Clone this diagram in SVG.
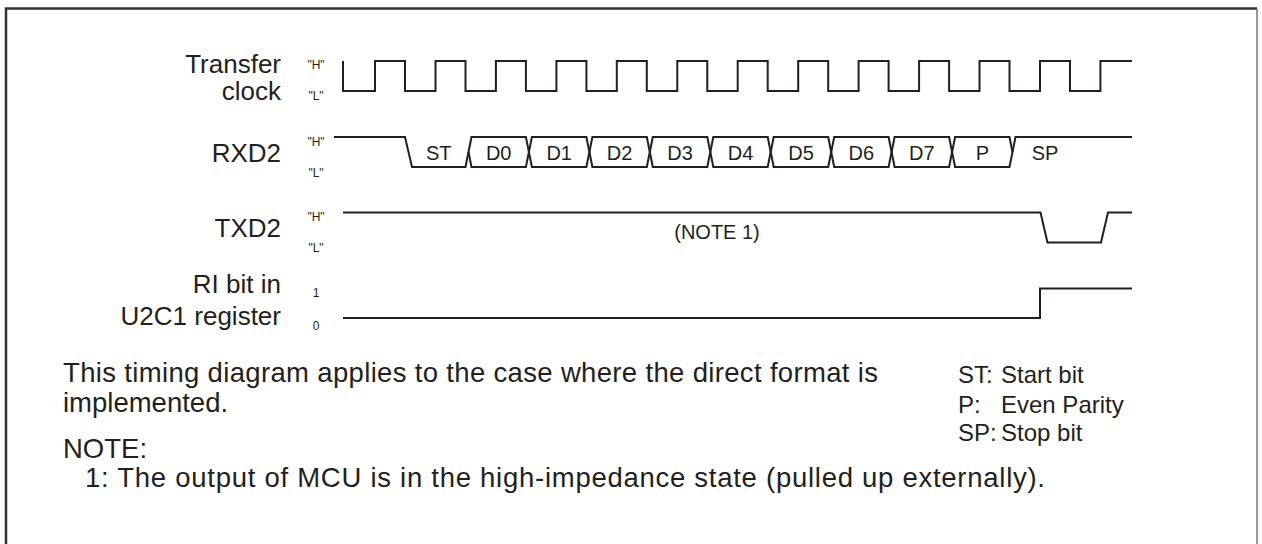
<svg xmlns="http://www.w3.org/2000/svg" width="1262" height="544" viewBox="0 0 1262 544">
<style>
.sig{fill:none;stroke:#231f20;stroke-width:2;stroke-linejoin:miter}
.lbl{font-family:"Liberation Sans",Arial,sans-serif;font-size:26px;fill:#231f20;text-anchor:end}
.hl{font-family:"Liberation Sans",Arial,sans-serif;font-size:12px;fill:#231f20;text-anchor:middle}
.dat{font-family:"Liberation Sans",Arial,sans-serif;font-size:20px;fill:#231f20;text-anchor:middle}
.txt{font-family:"Liberation Sans",Arial,sans-serif;font-size:27.5px;fill:#231f20}
.leg{font-family:"Liberation Sans",Arial,sans-serif;font-size:24px;fill:#231f20}
</style>
<rect width="1262" height="544" fill="#fff"/>
<g id="frame">
<path d="M6,544 V8.5 H1257" fill="none" stroke="#333" stroke-width="2.5"/>
<path d="M1257,8.5 V544" fill="none" stroke="#777" stroke-width="1.5"/>
</g>
<g id="clock">
<text class="lbl" x="281" y="72.5">Transfer</text>
<text class="lbl" x="281" y="100">clock</text>
<text class="hl" x="316" y="68.5">"H"</text>
<text class="hl" x="316" y="99.5">"L"</text>
</g>
<g id="rxd2">
<text class="lbl" x="281" y="161.5">RXD2</text>
<text class="hl" x="316" y="145.5">"H"</text>
<text class="hl" x="316" y="176.5">"L"</text>
<text class="dat" x="438.8" y="160">ST</text>
<text class="dat" x="498.7" y="160">D0</text>
<text class="dat" x="559.2" y="160">D1</text>
<text class="dat" x="619.6" y="160">D2</text>
<text class="dat" x="680.1" y="160">D3</text>
<text class="dat" x="740.5" y="160">D4</text>
<text class="dat" x="801" y="160">D5</text>
<text class="dat" x="861.4" y="160">D6</text>
<text class="dat" x="921.9" y="160">D7</text>
<text class="dat" x="982.3" y="160">P</text>
<text class="dat" x="1045" y="160">SP</text>
</g>
<g id="txd2">
<text class="lbl" x="281" y="236.5">TXD2</text>
<text class="hl" x="316" y="220.5">"H"</text>
<text class="hl" x="316" y="251.5">"L"</text>
<text class="dat" x="717" y="239">(NOTE 1)</text>
</g>
<g id="ri">
<text class="lbl" x="281" y="293">RI bit in</text>
<text class="lbl" x="281" y="325">U2C1 register</text>
<text class="hl" x="316" y="296.5">1</text>
<text class="hl" x="316" y="329.5">0</text>
</g>
<g id="connectors">
<path class="sig" d="M343,61 V91 H375 V61 H405 V91 H435.5 V61 H465.5 V91 H495.9 V61 H525.9 V91 H556.4 V61 H586.4 V91 H616.8 V61 H646.8 V91 H677.3 V61 H707.3 V91 H737.7 V61 H767.7 V91 H798.2 V61 H828.2 V91 H858.6 V61 H888.6 V91 H919.1 V61 H949.1 V91 H979.5 V61 H1009.5 V91 H1040 V61 H1070 V91 H1100.4 V61 H1132"/>
<path class="sig" d="M334,137 H405 L412,167 H465.5 L468.5,152"/>
<path class="sig" d="M468.5,152 L471.5,137 H525.9 L528.9,152 L525.9,167 H471.5 Z"/>
<path class="sig" d="M528.9,152 L531.9,137 H586.4 L589.4,152 L586.4,167 H531.9 Z"/>
<path class="sig" d="M589.4,152 L592.4,137 H646.8 L649.8,152 L646.8,167 H592.4 Z"/>
<path class="sig" d="M649.8,152 L652.8,137 H707.3 L710.3,152 L707.3,167 H652.8 Z"/>
<path class="sig" d="M710.3,152 L713.3,137 H767.7 L770.7,152 L767.7,167 H713.3 Z"/>
<path class="sig" d="M770.7,152 L773.7,137 H828.2 L831.2,152 L828.2,167 H773.7 Z"/>
<path class="sig" d="M831.2,152 L834.2,137 H888.6 L891.6,152 L888.6,167 H834.2 Z"/>
<path class="sig" d="M891.6,152 L894.6,137 H949.1 L952.1,152 L949.1,167 H894.6 Z"/>
<path class="sig" d="M952.1,152 L955.1,137 H1009.5 L1012.5,152 L1009.5,167 H955.1 Z"/>
<path class="sig" d="M1012.5,152 L1015.5,137 H1132"/>
<path class="sig" d="M343,212.5 H1040.5 L1047.5,242.5 H1101 L1108,212.5 H1132"/>
<path class="sig" d="M343,318 H1040 V288.5 H1132"/>
</g>
<g id="notes">
<text class="txt" x="63" y="381.7" textLength="815" lengthAdjust="spacing">This timing diagram applies to the case where the direct format is</text>
<text class="txt" x="63" y="411.7">implemented.</text>
<text class="txt" x="63" y="458.3">NOTE:</text>
<text class="txt" x="85" y="486.7" textLength="960" lengthAdjust="spacing">1: The output of MCU is in the high-impedance state (pulled up externally).</text>
</g>
<g id="legend">
<text class="leg" x="958" y="383">ST:</text>
<text class="leg" x="958" y="412.7">P:</text>
<text class="leg" x="958" y="441">SP:</text>
<text class="leg" x="1001" y="383">Start bit</text>
<text class="leg" x="1001" y="412.7">Even Parity</text>
<text class="leg" x="1001" y="441">Stop bit</text>
</g>
</svg>
